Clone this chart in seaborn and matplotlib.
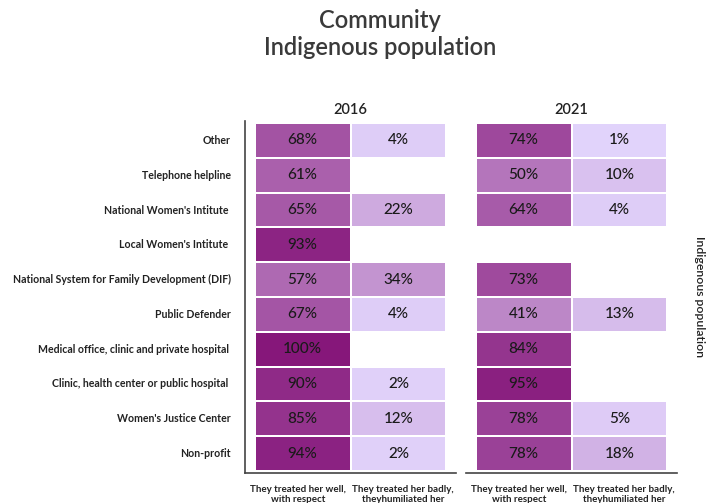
import numpy as np
import pandas as pd
import matplotlib
matplotlib.use("Agg")
import matplotlib.pyplot as plt
import seaborn as sns
from matplotlib.colors import LinearSegmentedColormap

# ---- data ----
institutions = [
    "Other",
    "Telephone helpline",
    "National Women's Intitute ",
    "Local Women's Intitute ",
    "National System for Family Development (DIF)",
    "Public Defender",
    "Medical office, clinic and private hospital ",
    "Clinic, health center or public hospital ",
    "Women's Justice Center",
    "Non-profit",
]
columns = ["They treated her well,\nwith respect", "They treated her badly,\ntheyhumiliated her"]
years = ["2016", "2021"]
well_2016 = [68, 61, 65, 93, 57, 67, 100, 90, 85, 94]
badly_2016 = [4, np.nan, 22, np.nan, 34, 4, np.nan, 2, 12, 2]
well_2021 = [74, 50, 64, np.nan, 73, 41, 84, 95, 78, 78]
badly_2021 = [1, 10, 4, np.nan, np.nan, 13, np.nan, np.nan, 5, 18]

title_lines = "Community\nIndigenous population"
side_label = "Indigenous population"

# ---- figure ----
sns.set_theme(style="white")
plt.rcParams["font.family"] = ["Lato", "DejaVu Sans"]

fig = plt.figure(figsize=(7.11, 5.03), dpi=100)
W, H = 711, 503

def ax_rect(x0, x1, y0, y1):
    return [x0 / W, 1 - y1 / H, (x1 - x0) / W, (y1 - y0) / H]

ax1 = fig.add_axes(ax_rect(245, 456, 121, 473))
ax2 = fig.add_axes(ax_rect(466, 677, 121, 473))

cmap = LinearSegmentedColormap.from_list("purp", ["#E2D4FC", "#86177A"])

panels = [(ax1, well_2016, badly_2016, years[0]), (ax2, well_2021, badly_2021, years[1])]
for i, (ax, w, b, yr) in enumerate(panels):
    df = pd.DataFrame({columns[0]: w, columns[1]: b}, index=institutions)
    annot = df.map(lambda v: "" if pd.isna(v) else f"{int(v)}%")
    sns.heatmap(df, ax=ax, cmap=cmap, vmin=0, vmax=100, cbar=False,
                annot=annot, fmt="", linewidths=0.12, linecolor="white",
                annot_kws={"fontsize": 11, "color": "#1a1a1a", "fontweight": "medium"})
    ax.set_xlim(-0.1, 2.1)
    ax.set_ylim(10.06, -0.06)
    ax.set_title(yr, fontsize=10.5, color="#222222", fontweight="semibold", pad=5)
    ax.tick_params(axis="both", length=0)
    ax.set_xticks([0.45, 1.55])
    ax.set_xticklabels(columns, fontsize=7, fontweight="bold", color="#222222",
                       rotation=0, linespacing=1.05)
    ax.tick_params(axis="x", pad=9)
    for s in ["top", "right"]:
        ax.spines[s].set_visible(False)
    ax.spines["bottom"].set_visible(True)
    ax.spines["bottom"].set_color("#444444")
    ax.spines["bottom"].set_linewidth(1.2)
    if i == 0:
        ax.set_yticks(np.arange(10) + 0.5)
        ax.set_yticklabels(institutions, fontsize=7.6, fontweight="bold",
                           color="#222222", rotation=0)
        ax.tick_params(axis="y", pad=10)
        ax.spines["left"].set_visible(True)
        ax.spines["left"].set_color("#444444")
        ax.spines["left"].set_linewidth(1.2)
    else:
        ax.set_yticks([])
        ax.spines["left"].set_visible(False)
    ax.set_xlabel("")
    ax.set_ylabel("")

fig.text(380 / W, 1 - 34 / H, title_lines, ha="center", va="center",
         fontsize=17, fontweight="semibold", color="#3a3a3a", linespacing=1.25)
fig.text(700 / W, 1 - 297 / H, side_label, ha="center", va="center",
         rotation=270, fontsize=8.8, fontweight="semibold", color="#222222")

fig.savefig("out.png", dpi=100)
